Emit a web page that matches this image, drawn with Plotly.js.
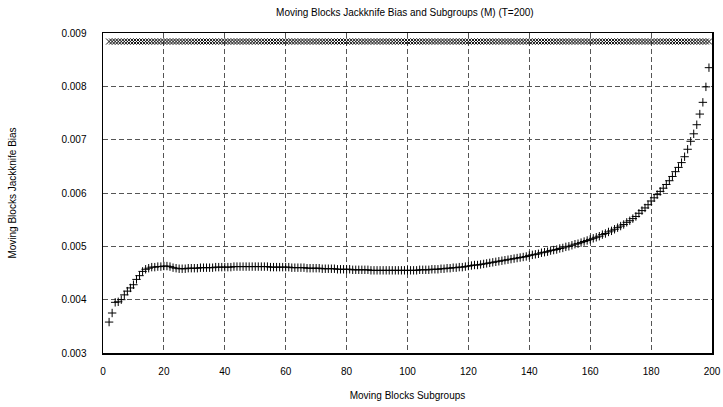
<!DOCTYPE html>
<html>
<head>
<meta charset="utf-8">
<script src="https://cdn.plot.ly/plotly-3.0.1.min.js"></script>
<style>html,body{margin:0;padding:0;background:#fff;}#chart{width:723px;height:407px;}</style>
</head>
<body>
<div id="chart"></div>
<script>
// Subgroup counts M = 2..199
const subgroupsStart = 2;
const subgroupsEnd = 199;
const subgroups = [];
for (let m = subgroupsStart; m <= subgroupsEnd; m++) subgroups.push(m);

// Upper series (x markers), read as constant ~0.00884
const upperBias = [
0.00884,0.00884,0.00884,0.00884,0.00884,0.00884,0.00884,0.00884,
0.00884,0.00884,0.00884,0.00884,0.00884,0.00884,0.00884,0.00884,0.00884,0.00884,
0.00884,0.00884,0.00884,0.00884,0.00884,0.00884,0.00884,0.00884,0.00884,0.00884,
0.00884,0.00884,0.00884,0.00884,0.00884,0.00884,0.00884,0.00884,0.00884,0.00884,
0.00884,0.00884,0.00884,0.00884,0.00884,0.00884,0.00884,0.00884,0.00884,0.00884,
0.00884,0.00884,0.00884,0.00884,0.00884,0.00884,0.00884,0.00884,0.00884,0.00884,
0.00884,0.00884,0.00884,0.00884,0.00884,0.00884,0.00884,0.00884,0.00884,0.00884,
0.00884,0.00884,0.00884,0.00884,0.00884,0.00884,0.00884,0.00884,0.00884,0.00884,
0.00884,0.00884,0.00884,0.00884,0.00884,0.00884,0.00884,0.00884,0.00884,0.00884,
0.00884,0.00884,0.00884,0.00884,0.00884,0.00884,0.00884,0.00884,0.00884,0.00884,
0.00884,0.00884,0.00884,0.00884,0.00884,0.00884,0.00884,0.00884,0.00884,0.00884,
0.00884,0.00884,0.00884,0.00884,0.00884,0.00884,0.00884,0.00884,0.00884,0.00884,
0.00884,0.00884,0.00884,0.00884,0.00884,0.00884,0.00884,0.00884,0.00884,0.00884,
0.00884,0.00884,0.00884,0.00884,0.00884,0.00884,0.00884,0.00884,0.00884,0.00884,
0.00884,0.00884,0.00884,0.00884,0.00884,0.00884,0.00884,0.00884,0.00884,0.00884,
0.00884,0.00884,0.00884,0.00884,0.00884,0.00884,0.00884,0.00884,0.00884,0.00884,
0.00884,0.00884,0.00884,0.00884,0.00884,0.00884,0.00884,0.00884,0.00884,0.00884,
0.00884,0.00884,0.00884,0.00884,0.00884,0.00884,0.00884,0.00884,0.00884,0.00884,
0.00884,0.00884,0.00884,0.00884,0.00884,0.00884,0.00884,0.00884,0.00884,0.00884,
0.00884,0.00884,0.00884,0.00884,0.00884,0.00884,0.00884,0.00884,0.00884,0.00884
];

// Lower series (+ markers), M = 2..199
const lowerBias = [
0.00358,0.00375,0.00395,0.00396,0.00400,0.00409,0.00416,0.00422,0.00428,
0.00438,0.00445,0.00453,0.00457,0.00459,0.00461,0.00461,0.00462,0.00462,0.00463,
0.00463,0.00462,0.00460,0.00459,0.00458,0.00458,0.00458,0.00459,0.00459,0.00459,
0.00459,0.00460,0.00460,0.00460,0.00460,0.00460,0.00461,0.00461,0.00461,0.00461,
0.00461,0.00461,0.00462,0.00462,0.00462,0.00462,0.00462,0.00462,0.00462,0.00462,
0.00462,0.00462,0.00462,0.00462,0.00461,0.00461,0.00461,0.00461,0.00461,0.00461,
0.00461,0.00460,0.00460,0.00460,0.00460,0.00460,0.00459,0.00459,0.00459,0.00459,
0.00459,0.00458,0.00458,0.00458,0.00458,0.00458,0.00457,0.00457,0.00457,0.00457,
0.00457,0.00456,0.00456,0.00456,0.00456,0.00456,0.00456,0.00455,0.00455,0.00455,
0.00455,0.00455,0.00455,0.00455,0.00455,0.00455,0.00455,0.00455,0.00455,0.00455,
0.00455,0.00455,0.00455,0.00456,0.00456,0.00456,0.00456,0.00457,0.00457,0.00457,
0.00458,0.00458,0.00459,0.00459,0.00460,0.00460,0.00461,0.00461,0.00462,0.00463,
0.00464,0.00465,0.00465,0.00466,0.00467,0.00468,0.00469,0.00470,0.00471,0.00472,
0.00473,0.00474,0.00475,0.00476,0.00477,0.00478,0.00479,0.00480,0.00481,0.00483,
0.00484,0.00485,0.00486,0.00488,0.00489,0.00490,0.00492,0.00493,0.00494,0.00496,
0.00497,0.00499,0.00500,0.00502,0.00504,0.00505,0.00507,0.00509,0.00511,0.00513,
0.00515,0.00517,0.00519,0.00522,0.00524,0.00527,0.00529,0.00532,0.00535,0.00538,
0.00541,0.00545,0.00548,0.00552,0.00556,0.00562,0.00567,0.00572,0.00578,0.00585,
0.00591,0.00597,0.00603,0.00609,0.00616,0.00623,0.00631,0.00640,0.00648,0.00657,
0.00668,0.00682,0.00697,0.00711,0.00728,0.00748,0.00770,0.00799,0.00835
];

const xTicks = [0,20,40,60,80,100,120,140,160,180,200];
const yTicks = [0.003,0.004,0.005,0.006,0.007,0.008,0.009];

const font = {family: 'Liberation Sans, Arial, sans-serif', size: 10, color: '#000'};

const traces = [
  {x: subgroups, y: upperBias, type: 'scatter', mode: 'markers',
   marker: {symbol: 'x-thin', size: 6, color: 'rgba(0,0,0,0)', line: {color: '#111', width: 1}},
   cliponaxis: false, showlegend: false, hoverinfo: 'skip'},
  {x: subgroups, y: lowerBias, type: 'scatter', mode: 'markers',
   marker: {symbol: 'cross-thin', size: 6, color: 'rgba(0,0,0,0)', line: {color: '#000', width: 1}},
   cliponaxis: false, showlegend: false, hoverinfo: 'skip'}
];

const axisCommon = {
  showline: true, mirror: true, linecolor: '#000', linewidth: 1.5,
  showgrid: true, gridcolor: '#555', griddash: '5px,3px', gridwidth: 1,
  zeroline: false, ticks: '', tickfont: font, fixedrange: true
};

const layout = {
  width: 723, height: 407,
  margin: {l: 103, r: 11, t: 33, b: 54},
  paper_bgcolor: '#fff', plot_bgcolor: '#fff',
  font: font,
  title: {text: 'Moving Blocks Jackknife Bias and Subgroups (M) (T=200)', font: font,
          x: 0.56, xanchor: 'center', y: 0.97, yanchor: 'middle'},
  xaxis: Object.assign({}, axisCommon, {
    range: [0, 200], tickvals: xTicks, ticktext: xTicks.map(String),
    ticklabelstandoff: 8,
    title: {text: 'Moving Blocks Subgroups', font: font, standoff: 16}
  }),
  yaxis: Object.assign({}, axisCommon, {
    range: [0.003, 0.009], tickvals: yTicks, ticktext: yTicks.map(v => v.toFixed(3)),
    ticklabelstandoff: 13,
    title: {text: 'Moving Blocks Jackknife Bias', font: font, standoff: 43}
  })
};

Plotly.newPlot('chart', traces, layout, {displayModeBar: false, staticPlot: true});
</script>
</body>
</html>
